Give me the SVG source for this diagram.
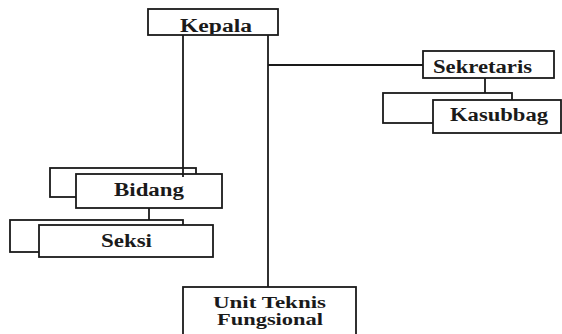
<svg xmlns="http://www.w3.org/2000/svg" width="562" height="334" viewBox="0 0 562 334">
  <style>
    .box { fill: #ffffff; stroke: #1a1a1a; stroke-width: 1.8; }
    .link { fill: none; stroke: #1a1a1a; stroke-width: 1.8; }
    .label { font-family: "Liberation Serif", "Times New Roman", serif; font-weight: bold; font-size: 18px; fill: #1a1a1a; text-anchor: middle; }
    .label.small { font-size: 16px; }
  </style>
  <defs>
    <clipPath id="kepala-clip">
      <rect x="149" y="10" width="128" height="24"/>
    </clipPath>
  </defs>
  <rect width="562" height="334" fill="#ffffff"/>

  <g id="kepala">
    <rect class="box" x="148" y="9" width="130" height="26"/>
    <text class="label" x="216" y="32" textLength="72" lengthAdjust="spacingAndGlyphs" clip-path="url(#kepala-clip)">Kepala</text>
  </g>

  <g id="sekretaris">
    <rect class="box" x="423" y="51" width="131" height="27"/>
    <text class="label" x="482.5" y="73" textLength="99" lengthAdjust="spacingAndGlyphs">Sekretaris</text>
  </g>

  <g id="kasubbag">
    <rect class="box" x="383" y="93" width="129" height="30"/>
    <rect class="box" x="433" y="100" width="128" height="33"/>
    <text class="label" x="499" y="121" textLength="98" lengthAdjust="spacingAndGlyphs">Kasubbag</text>
  </g>

  <g id="bidang">
    <rect class="box" x="50" y="168" width="146" height="29"/>
    <rect class="box" x="76" y="174" width="146" height="34"/>
    <text class="label" x="149" y="196" textLength="70" lengthAdjust="spacingAndGlyphs">Bidang</text>
  </g>

  <g id="seksi">
    <rect class="box" x="10" y="220" width="173" height="32"/>
    <rect class="box" x="39" y="225" width="174" height="32"/>
    <text class="label" x="126.5" y="247" textLength="51" lengthAdjust="spacingAndGlyphs">Seksi</text>
  </g>

  <g id="unit-teknis-fungsional">
    <rect class="box" x="183" y="287" width="173" height="53"/>
    <text class="label small" x="269.5" y="307.5" textLength="113" lengthAdjust="spacingAndGlyphs">Unit Teknis</text>
    <text class="label small" x="270" y="325" textLength="106" lengthAdjust="spacingAndGlyphs">Fungsional</text>
  </g>

  <!-- connectors -->
  <g id="connectors">
    <line class="link" x1="183" y1="35" x2="183" y2="177"/>
    <line class="link" x1="268" y1="35" x2="268" y2="287"/>
    <line class="link" x1="268" y1="65" x2="423" y2="65"/>
    <line class="link" x1="485" y1="78" x2="485" y2="93"/>
    <line class="link" x1="149" y1="208" x2="149" y2="220"/>
  </g>
</svg>
